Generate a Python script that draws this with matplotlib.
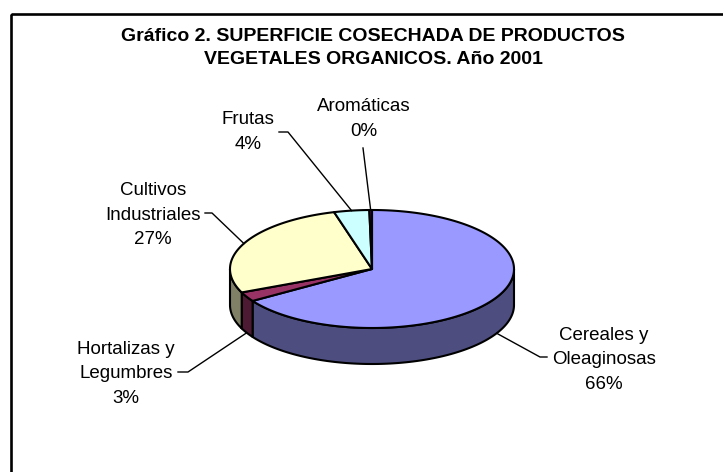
import numpy as np
import matplotlib
matplotlib.use("Agg")
import matplotlib.pyplot as plt
from matplotlib.patches import Polygon, Rectangle

plt.rcParams['font.family'] = ['Liberation Sans', 'DejaVu Sans']

# data (share of harvested area, %)
categories = ["Cereales y\nOleaginosas", "Hortalizas y\nLegumbres",
              "Cultivos\nIndustriales", "Frutas", "Aromáticas"]
shares = [65.9, 2.6, 27.2, 4.0, 0.3]
top_colors = ["#9999ff", "#993366", "#ffffcc", "#ccffff", "#660066"]
side_colors = ["#4d4d80", "#4d1a33", "#808066", "#668080", "#330033"]

title = "Gráfico 2. SUPERFICIE COSECHADA DE PRODUCTOS\nVEGETALES ORGANICOS. Año 2001"

# label placement (pixel coords): text centre, elbow of leader, end of short tick
label_pos = [(604, 360), (126, 374), (153, 215), (248, 132), (364, 119)]
leader_elbow = [(540, 357), (188, 372), (212, 213), (288, 132), (363, 148)]
leader_tick = [(547, 357), (178, 372), (205, 213), (279, 132), None]

# pie geometry in pixels
cx, cy = 372, 269
ra, rb = 142, 59
depth = 36

fig = plt.figure(figsize=(7.23, 4.72), dpi=100)
ax = fig.add_axes([0, 0, 1, 1])
ax.set_xlim(0, 723)
ax.set_ylim(472, 0)
ax.axis('off')

# chart-area frame (only top and left are inside the crop)
ax.add_patch(Rectangle((11, 14), 730, 470, fill=False, lw=1.9,
                       edgecolor='black', zorder=0))


def ell(t, dy=0.0):
    t = np.radians(t)
    return cx + ra * np.cos(t), cy - rb * np.sin(t) + dy


def arc(t1, t2, dy=0.0):
    n = max(2, int(abs(t1 - t2) * 2) + 2)
    t = np.linspace(t1, t2, n)
    x, y = ell(t, dy)
    return np.column_stack([x, y])


cum = np.concatenate([[0], np.cumsum(shares)])
starts = 90 - 3.6 * cum[:-1]
ends = 90 - 3.6 * cum[1:]

# side walls (front half only)
for i in range(len(shares)):
    t1, t2 = starts[i], ends[i]
    for k in (-1, 0, 1):
        lo, hi = -180 + 360 * k, 0 + 360 * k
        a, b = min(t1, hi), max(t2, lo)
        if a <= b:
            continue
        pts = np.vstack([arc(a, b), arc(b, a, depth)])
        ax.add_patch(Polygon(pts, closed=True, facecolor=side_colors[i],
                             edgecolor='black', lw=1.5, joinstyle='round',
                             zorder=1))

# top faces
for i in range(len(shares)):
    pts = np.vstack([[cx, cy], arc(starts[i], ends[i])])
    ax.add_patch(Polygon(pts, closed=True, facecolor=top_colors[i],
                         edgecolor='black', lw=1.5, joinstyle='round',
                         zorder=2))

# labels with leader lines
for i in range(len(shares)):
    mid = (starts[i] + ends[i]) / 2
    front = np.sin(np.radians(mid)) < 0
    ax_, ay_ = ell(mid, depth if front else 0)
    ex, ey = leader_elbow[i]
    xs, ys = [ax_, ex], [ay_, ey]
    if leader_tick[i] is not None:
        xs.append(leader_tick[i][0])
        ys.append(leader_tick[i][1])
    ax.plot(xs, ys, color='black', lw=1.0, zorder=3)
    txt = "%s\n%d%%" % (categories[i], round(shares[i]))
    lx, ly = label_pos[i]
    ax.text(lx, ly, txt, ha='center', va='center', ma='center',
            fontsize=13.5, linespacing=1.6, zorder=4)

ax.text(373, 48, title, ha='center', va='center', ma='center',
        fontsize=14, fontweight='bold', linespacing=1.42)

fig.savefig("out.png", dpi=100)
